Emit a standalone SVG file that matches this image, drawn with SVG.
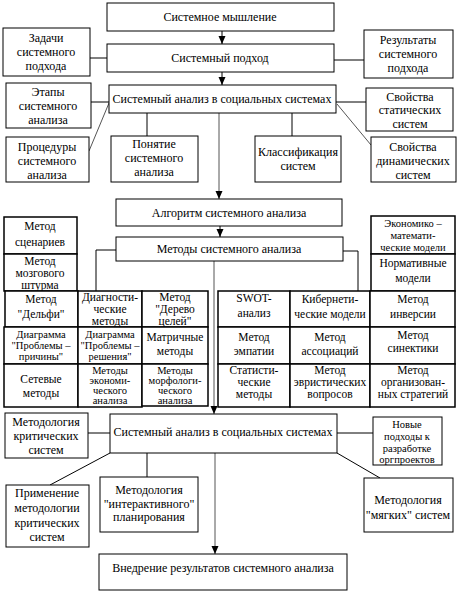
<svg xmlns="http://www.w3.org/2000/svg" width="459" height="593" viewBox="0 0 459 593">
<style>
rect{fill:#fff;stroke:#000;stroke-width:1}
rect.g{stroke-width:1.5}
text{font-family:"Liberation Serif","DejaVu Serif","Times New Roman",serif;font-size:12px;fill:#000;text-anchor:middle}
text.s{font-size:11.5px}
text.x{font-size:10.5px}
.c line,.c polyline{stroke:#000;stroke-width:1;fill:none}
.c .gr{stroke:#555}
</style>
<defs>
<marker id="ar" markerUnits="userSpaceOnUse" markerWidth="8" markerHeight="8" refX="8" refY="4" orient="auto">
<path d="M0,0.5 L8,4 L0,7.5 z" fill="#000"/>
</marker>
</defs>
<rect x="0" y="0" width="459" height="593" style="stroke:none"/>
<g class="c">
<line x1="222" y1="31" x2="222" y2="44" marker-end="url(#ar)"/>
<line x1="90" y1="58" x2="107" y2="58"/>
<line x1="334" y1="60" x2="364" y2="60"/>
<line x1="222" y1="72" x2="222" y2="85" marker-end="url(#ar)"/>
<line x1="91" y1="102" x2="109" y2="102"/>
<line class="gr" x1="109" y1="103" x2="89" y2="151"/>
<line x1="147" y1="113" x2="147" y2="136"/>
<line x1="336" y1="102" x2="366" y2="102"/>
<line class="gr" x1="337" y1="104" x2="371" y2="145"/>
<line x1="292" y1="113" x2="292" y2="136"/>
<line class="gr" x1="219" y1="113" x2="219" y2="199" marker-end="url(#ar)"/>
<line x1="220" y1="226" x2="220" y2="237" marker-end="url(#ar)"/>
<polyline points="116,250 96,250 96,291"/>
<polyline points="343,251 358,251 358,291"/>
<line class="gr" x1="214" y1="261" x2="214" y2="414" marker-end="url(#ar)"/>
<line x1="88" y1="433" x2="110" y2="433"/>
<line x1="337" y1="433" x2="373" y2="433"/>
<line x1="110" y1="453" x2="50" y2="485"/>
<line x1="147" y1="453" x2="147" y2="477"/>
<line x1="337" y1="453" x2="380" y2="478"/>
<line class="gr" x1="215" y1="453" x2="215" y2="554" marker-end="url(#ar)"/>
</g>
<g id="n1"><rect x="107" y="3" width="227" height="28"/><text x="220" y="21">Системное мышление</text></g>
<g id="n2"><rect x="3" y="28" width="87" height="48"/><text><tspan x="46" y="42">Задачи</tspan><tspan x="46" y="56">системного</tspan><tspan x="46" y="70">подхода</tspan></text></g>
<g id="n3"><rect x="107" y="44" width="227" height="28"/><text x="220" y="62">Системный подход</text></g>
<g id="n4"><rect x="364" y="30" width="89" height="48"/><text><tspan x="408" y="44">Результаты</tspan><tspan x="408" y="58">системного</tspan><tspan x="408" y="72">подхода</tspan></text></g>
<g id="n5"><rect x="6" y="83" width="85" height="45"/><text><tspan x="48" y="96">Этапы</tspan><tspan x="48" y="110">системного</tspan><tspan x="48" y="124">анализа</tspan></text></g>
<g id="n6"><rect x="109" y="85" width="227" height="28"/><text x="222" y="103">Системный анализ в социальных системах</text></g>
<g id="n7"><rect x="366" y="88" width="87" height="43"/><text><tspan x="410" y="101">Свойства</tspan><tspan x="410" y="114">статических</tspan><tspan x="410" y="128">систем</tspan></text></g>
<g id="n8"><rect x="6" y="137" width="83" height="45"/><text><tspan x="47" y="151">Процедуры</tspan><tspan x="47" y="165">системного</tspan><tspan x="47" y="179">анализа</tspan></text></g>
<g id="n9"><rect x="111" y="136" width="87" height="46"/><text><tspan x="154" y="148">Понятие</tspan><tspan x="154" y="162">системного</tspan><tspan x="154" y="176">анализа</tspan></text></g>
<g id="n10"><rect x="255" y="136" width="86" height="46"/><text><tspan x="298" y="156">Классификация</tspan><tspan x="298" y="170">систем</tspan></text></g>
<g id="n11"><rect x="371" y="137" width="85" height="45"/><text><tspan x="413" y="151">Свойства</tspan><tspan x="413" y="165">динамических</tspan><tspan x="413" y="179">систем</tspan></text></g>
<g id="n12"><rect x="116" y="199" width="226" height="27"/><text x="229" y="217">Алгоритм системного анализа</text></g>
<g id="n13"><rect x="116" y="237" width="227" height="24"/><text x="229" y="253">Методы системного анализа</text></g>
<g id="n14"><rect class="g" x="4" y="217" width="73" height="37"/><text class="s"><tspan x="40" y="230">Метод</tspan><tspan x="40" y="246">сценариев</tspan></text></g>
<g id="n15"><rect class="g" x="4" y="254" width="73" height="37"/><text class="s"><tspan x="40" y="265">Метод</tspan><tspan x="40" y="277">мозгового</tspan><tspan x="40" y="289">штурма</tspan></text></g>
<g id="n16"><rect class="g" x="5" y="291" width="73" height="36"/><text class="s"><tspan x="41" y="303">Метод</tspan><tspan x="41" y="318">"Дельфи"</tspan></text></g>
<g id="n17"><rect class="g" x="78" y="291" width="64" height="36"/><text class="s"><tspan x="110" y="301">Диагности-</tspan><tspan x="110" y="313">ческие</tspan><tspan x="110" y="325">методы</tspan></text></g>
<g id="n18"><rect class="g" x="142" y="291" width="66" height="36"/><text class="s"><tspan x="175" y="301">Метод</tspan><tspan x="175" y="313">"Дерево</tspan><tspan x="175" y="325">целей"</tspan></text></g>
<g id="n19"><rect class="g" x="4" y="327" width="74" height="37"/><text class="x"><tspan x="41" y="338">Диаграмма</tspan><tspan x="41" y="349">"Проблемы –</tspan><tspan x="41" y="360">причины"</tspan></text></g>
<g id="n20"><rect class="g" x="78" y="327" width="64" height="37"/><text class="x"><tspan x="110" y="338">Диаграмма</tspan><tspan x="110" y="349">"Проблемы –</tspan><tspan x="110" y="360">решения"</tspan></text></g>
<g id="n21"><rect class="g" x="142" y="327" width="66" height="37"/><text class="s"><tspan x="175" y="341">Матричные</tspan><tspan x="175" y="355">методы</tspan></text></g>
<g id="n22"><rect class="g" x="4" y="364" width="74" height="43"/><text class="s"><tspan x="41" y="383">Сетевые</tspan><tspan x="41" y="397">методы</tspan></text></g>
<g id="n23"><rect class="g" x="78" y="364" width="64" height="43"/><text class="x"><tspan x="110" y="374">Методы</tspan><tspan x="110" y="384">экономи-</tspan><tspan x="110" y="394">ческого</tspan><tspan x="110" y="404">анализа</tspan></text></g>
<g id="n24"><rect class="g" x="142" y="364" width="66" height="42"/><text class="x"><tspan x="175" y="374">Методы</tspan><tspan x="175" y="384">морфологи-</tspan><tspan x="175" y="394">ческого</tspan><tspan x="175" y="404">анализа</tspan></text></g>
<g id="n25"><rect class="g" x="371" y="216" width="84" height="38"/><text class="x"><tspan x="413" y="227">Экономико –</tspan><tspan x="413" y="239">математи-</tspan><tspan x="413" y="251">ческие модели</tspan></text></g>
<g id="n26"><rect class="g" x="371" y="254" width="84" height="37"/><text class="s"><tspan x="413" y="267">Нормативные</tspan><tspan x="413" y="282">модели</tspan></text></g>
<g id="n27"><rect class="g" x="218" y="291" width="72" height="36"/><text class="s"><tspan x="254" y="302">SWOT-</tspan><tspan x="254" y="317">анализ</tspan></text></g>
<g id="n28"><rect class="g" x="290" y="291" width="80" height="36"/><text class="s"><tspan x="330" y="303">Кибернети-</tspan><tspan x="330" y="318">ческие модели</tspan></text></g>
<g id="n29"><rect class="g" x="370" y="291" width="85" height="36"/><text class="s"><tspan x="413" y="303">Метод</tspan><tspan x="413" y="318">инверсии</tspan></text></g>
<g id="n30"><rect class="g" x="218" y="327" width="72" height="37"/><text class="s"><tspan x="254" y="341">Метод</tspan><tspan x="254" y="355">эмпатии</tspan></text></g>
<g id="n31"><rect class="g" x="290" y="327" width="80" height="37"/><text class="s"><tspan x="330" y="341">Метод</tspan><tspan x="330" y="355">ассоциаций</tspan></text></g>
<g id="n32"><rect class="g" x="370" y="327" width="85" height="37"/><text class="s"><tspan x="413" y="339">Метод</tspan><tspan x="413" y="352">синектики</tspan></text></g>
<g id="n33"><rect class="g" x="218" y="364" width="72" height="43"/><text class="s"><tspan x="254" y="374">Статисти-</tspan><tspan x="254" y="386">ческие</tspan><tspan x="254" y="398">методы</tspan></text></g>
<g id="n34"><rect class="g" x="290" y="364" width="80" height="43"/><text class="s"><tspan x="330" y="374">Метод</tspan><tspan x="330" y="386">эвристических</tspan><tspan x="330" y="398">вопросов</tspan></text></g>
<g id="n35"><rect class="g" x="370" y="364" width="85" height="43"/><text class="s"><tspan x="413" y="374">Метод</tspan><tspan x="413" y="386">организован-</tspan><tspan x="413" y="398">ных стратегий</tspan></text></g>
<g id="n36"><rect x="5" y="413" width="83" height="45"/><text><tspan x="46" y="426">Методология</tspan><tspan x="46" y="440">критических</tspan><tspan x="46" y="454">систем</tspan></text></g>
<g id="n37"><rect x="110" y="414" width="227" height="39"/><text x="223" y="436">Системный анализ в социальных системах</text></g>
<g id="n38"><rect x="373" y="417" width="69" height="48"/><text class="x"><tspan x="407" y="428">Новые</tspan><tspan x="407" y="440">подходы к</tspan><tspan x="407" y="452">разработке</tspan><tspan x="407" y="463">оргпроектов</tspan></text></g>
<g id="n39"><rect x="6" y="485" width="83" height="62"/><text><tspan x="47" y="497">Применение</tspan><tspan x="47" y="512">методологии</tspan><tspan x="47" y="527">критических</tspan><tspan x="47" y="541">систем</tspan></text></g>
<g id="n40"><rect x="100" y="477" width="98" height="55"/><text><tspan x="149" y="494">Методология</tspan><tspan x="149" y="508">"интерактивного"</tspan><tspan x="149" y="521">планирования</tspan></text></g>
<g id="n41"><rect x="364" y="478" width="89" height="54"/><text><tspan x="408" y="504">Методология</tspan><tspan x="408" y="519">"мягких" систем</tspan></text></g>
<g id="n42"><rect x="99" y="554" width="248" height="36"/><text x="223" y="572">Внедрение результатов системного анализа</text></g>
</svg>
